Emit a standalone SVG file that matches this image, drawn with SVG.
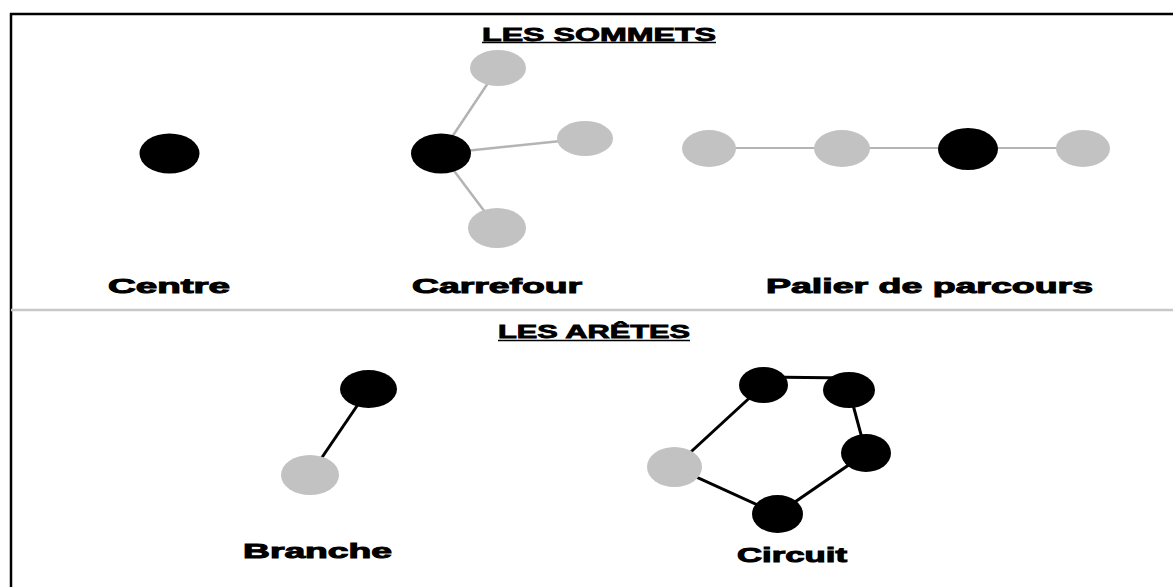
<svg xmlns="http://www.w3.org/2000/svg" width="1173" height="587" viewBox="0 0 1173 587">
<style>
.bg{fill:#fff}
.blk{fill:#000}
.gry{fill:#c2c2c2}
.gl{stroke:#b4b4b4;stroke-width:2.5;fill:none}
.bl{stroke:#000;stroke-width:3;fill:none}
.lbl{font-family:"Liberation Sans",Arial,sans-serif;font-weight:bold;font-size:21px;fill:#000;stroke:#000;stroke-width:1}
.ttl{font-family:"Liberation Sans",Arial,sans-serif;font-weight:bold;font-size:18px;fill:#000;stroke:#000;stroke-width:0.8}
.ul{stroke:#000;stroke-width:1.5}
</style>
<rect class="bg" x="0" y="0" width="1173" height="587"/>
<g id="frame">
<line x1="10" y1="14" x2="1173" y2="14" stroke="#000" stroke-width="2.5"/>
<line x1="11" y1="13" x2="11" y2="587" stroke="#000" stroke-width="2.5"/>
<line x1="11" y1="310" x2="1173" y2="310" stroke="#c8c8c8" stroke-width="2.5"/>
</g>
<g id="titles">
<text class="ttl" x="482" y="40.5" textLength="234" lengthAdjust="spacingAndGlyphs">LES SOMMETS</text>
<line class="ul" x1="482" y1="42.5" x2="716" y2="42.5"/>
<text class="ttl" x="498" y="338" textLength="192" lengthAdjust="spacingAndGlyphs">LES ARÊTES</text>
<line class="ul" x1="498" y1="340.5" x2="690" y2="340.5"/>
</g>
<g id="connectors">
<line class="gl" x1="441" y1="153.5" x2="498" y2="68"/>
<line class="gl" x1="441" y1="153.5" x2="585" y2="138.5"/>
<line class="gl" x1="441" y1="153.5" x2="497" y2="228"/>
<line class="gl" x1="709" y1="148" x2="1083" y2="148" style="stroke-width:2"/>
<line class="bl" x1="368.5" y1="389" x2="310" y2="475"/>
<polyline class="bl" points="849,390 866,453 777.5,514 674.5,467 763.5,385"/>
<line class="bl" x1="763.5" y1="377" x2="849" y2="378"/>
</g>
<g id="centre">
<ellipse class="blk" cx="169.5" cy="153.5" rx="30" ry="20"/>
<text class="lbl" x="108" y="293" textLength="122" lengthAdjust="spacingAndGlyphs">Centre</text>
</g>
<g id="carrefour">
<ellipse class="gry" cx="498" cy="68" rx="28" ry="18"/>
<ellipse class="gry" cx="585" cy="138.5" rx="28" ry="17.5"/>
<ellipse class="gry" cx="497" cy="228" rx="29" ry="20"/>
<ellipse class="blk" cx="441" cy="153.5" rx="30" ry="20"/>
<text class="lbl" x="412" y="293" textLength="170" lengthAdjust="spacingAndGlyphs">Carrefour</text>
</g>
<g id="palier">
<ellipse class="gry" cx="709" cy="148.5" rx="27" ry="18.5"/>
<ellipse class="gry" cx="842" cy="148.5" rx="28" ry="18.5"/>
<ellipse class="blk" cx="968" cy="149" rx="30" ry="21"/>
<ellipse class="gry" cx="1083" cy="148.5" rx="27" ry="18.5"/>
<text class="lbl" x="766" y="293" textLength="327" lengthAdjust="spacingAndGlyphs">Palier de parcours</text>
</g>
<g id="branche">
<ellipse class="blk" cx="368.5" cy="389" rx="28.5" ry="19"/>
<ellipse class="gry" cx="310" cy="475" rx="29" ry="20"/>
<text class="lbl" x="243" y="558" textLength="149" lengthAdjust="spacingAndGlyphs">Branche</text>
</g>
<g id="circuit">
<ellipse class="gry" cx="674.5" cy="467" rx="27.5" ry="20"/>
<ellipse class="blk" cx="763.5" cy="385" rx="24.5" ry="18"/>
<ellipse class="blk" cx="849" cy="390" rx="26" ry="18"/>
<ellipse class="blk" cx="866" cy="453" rx="25" ry="19"/>
<ellipse class="blk" cx="777.5" cy="514" rx="25.5" ry="19"/>
<text class="lbl" x="737" y="562" textLength="110" lengthAdjust="spacingAndGlyphs">Circuit</text>
</g>
</svg>
